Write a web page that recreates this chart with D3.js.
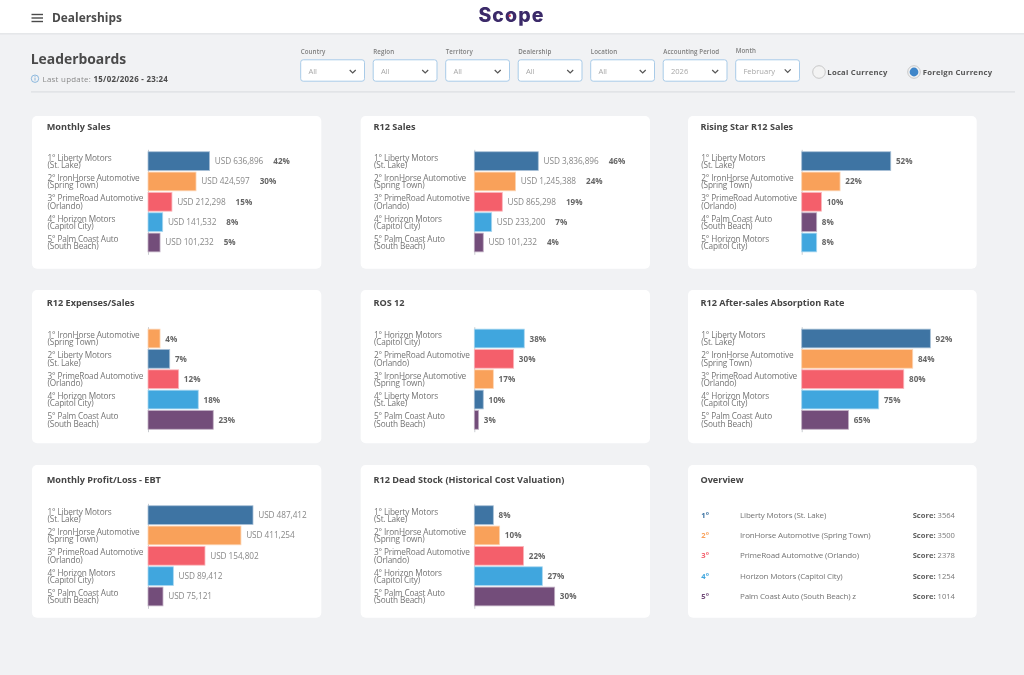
<!DOCTYPE html>
<html lang="en">
<head>
<meta charset="utf-8">
<title>Leaderboards</title>
<script src="https://cdnjs.cloudflare.com/ajax/libs/d3/7.8.5/d3.min.js"></script>
<style>
  body { margin: 0; background: #f1f2f4; font-family: "Open Sans", sans-serif; }
  svg { display: block; filter: blur(.3px); }
  text { font-family: "Open Sans", sans-serif; }
  .card { fill: #fff; }
  .title { font-size: 9.15px; font-weight: 700; fill: #454545; }
  .dealer { font-size: 8.25px; fill: #747474; letter-spacing: -.16px; }
  .amount { font-size: 8.25px; fill: #888; letter-spacing: -.06px; }
  .share { font-size: 8.1px; font-weight: 700; fill: #666; letter-spacing: .05px; }
  .flabel { font-size: 6.2px; font-weight: 600; fill: #7d7d7d; letter-spacing: .1px; }
  .fvalue { font-size: 7.6px; fill: #a8a8a8; }
  .radio { font-size: 7.7px; font-weight: 700; fill: #555; letter-spacing: .25px; }
  .axis path { stroke: #c9ccd0; }
</style>
</head>
<body>
<div id="chart"></div>
<script>
// dealers, same index everywhere
var dealerNames = ['Liberty Motors', 'IronHorse Automotive', 'PrimeRoad Automotive', 'Horizon Motors', 'Palm Coast Auto'];
var dealerTowns = ['St. Lake', 'Spring Town', 'Orlando', 'Capitol City', 'South Beach'];
var dealerColors = ['#3e74a3', '#f9a15a', '#f45f6b', '#40a6de', '#734d7a'];

// bar lengths are read off the picture, they do not follow the printed labels
var monthlySalesOrder = [0, 1, 2, 3, 4];
var monthlySalesBars = [44, 34.3, 17.1, 10.5, 8.6];
var monthlySalesAmounts = [636896, 424597, 212298, 141532, 101232];
var monthlySalesShares = [42, 30, 15, 8, 5];

var r12SalesOrder = [0, 1, 2, 3, 4];
var r12SalesBars = [45.7, 29.5, 20, 12.4, 6.4];
var r12SalesAmounts = [3836896, 1245388, 865298, 233200, 101232];
var r12SalesShares = [46, 24, 19, 7, 4];

var risingStarOrder = [0, 1, 2, 4, 3];
var risingStarBars = [63.6, 27.4, 14.1, 10.7, 10.7];
var risingStarShares = [52, 22, 10, 8, 8];

var expensesOrder = [1, 0, 2, 3, 4];
var expensesBars = [8.6, 15.5, 21.9, 35.9, 46.6];
var expensesShares = [4, 7, 12, 18, 23];

var rosOrder = [3, 2, 1, 0, 4];
var rosBars = [35.7, 28.1, 13.6, 6.4, 3.1];
var rosShares = [38, 30, 17, 10, 3];

var absorptionOrder = [0, 1, 2, 3, 4];
var absorptionBars = [91.9, 79.3, 72.9, 55, 33.4];
var absorptionShares = [92, 84, 80, 75, 65];

var profitOrder = [0, 1, 2, 3, 4];
var profitBars = [75, 66.4, 40.7, 18.1, 10.7];
var profitAmounts = [487412, 411254, 154802, 89412, 75121];

var deadStockOrder = [0, 1, 2, 3, 4];
var deadStockBars = [13.6, 18.1, 35.2, 48.6, 57.4];
var deadStockShares = [8, 10, 22, 27, 30];

var overviewOrder = [0, 1, 2, 3, 4];
var overviewScores = [3564, 3500, 2378, 1254, 1014];

var filterLabels = ['Country', 'Region', 'Territory', 'Dealership', 'Location', 'Accounting Period', 'Month'];
var filterValues = ['All', 'All', 'All', 'All', 'All', '2026', 'February'];

var panels = [
  { title: 'Monthly Sales', order: monthlySalesOrder, bars: monthlySalesBars, amounts: monthlySalesAmounts, shares: monthlySalesShares },
  { title: 'R12 Sales', order: r12SalesOrder, bars: r12SalesBars, amounts: r12SalesAmounts, shares: r12SalesShares },
  { title: 'Rising Star R12 Sales', order: risingStarOrder, bars: risingStarBars, shares: risingStarShares },
  { title: 'R12 Expenses/Sales', order: expensesOrder, bars: expensesBars, shares: expensesShares },
  { title: 'ROS 12', order: rosOrder, bars: rosBars, shares: rosShares },
  { title: 'R12 After-sales Absorption Rate', order: absorptionOrder, bars: absorptionBars, shares: absorptionShares },
  { title: 'Monthly Profit/Loss - EBT', order: profitOrder, bars: profitBars, amounts: profitAmounts },
  { title: 'R12 Dead Stock (Historical Cost Valuation)', order: deadStockOrder, bars: deadStockBars, shares: deadStockShares }
];

var width = 1024, height = 675;
var cardX = [32, 360.7, 688], cardW = [289.3, 289.3, 288.7];
var cardY = [116, 290, 465], cardH = [152.7, 153.3, 152.7];
var titleDx = [14.7, 12.7, 12.4], labelDx = [15.5, 13.3, 13.3];
var titleDy = [10.3, 12.7, 15], plotDy = [33.3, 36.7, 38.3];
var axisDx = [116, 113.6, 113.7];
var plotH = 105;

var svg = d3.select('#chart').append('svg').attr('width', width).attr('height', height);
svg.append('rect').attr('width', width).attr('height', height).attr('fill', '#f1f2f4');

// top bar
svg.append('rect').attr('width', width).attr('height', 33).attr('fill', '#fff');
svg.append('rect').attr('y', 33).attr('width', width).attr('height', 1.6).attr('fill', '#e5e7e9');
[14.5, 18, 21.5].forEach(function(y) {
  svg.append('rect').attr('x', 31.5).attr('y', y - .7).attr('width', 11.5).attr('height', 1.4).attr('fill', '#4a4a4a');
});
svg.append('text').attr('x', 52).attr('y', 22).style('font-size', '11.9px').style('font-weight', 700).attr('fill', '#4a4a4a').text('Dealerships');
svg.append('text').attr('x', 511.5).attr('y', 22).attr('text-anchor', 'middle')
  .style('font-family', 'Inter').style('font-size', '19.5px').style('font-weight', 800).style('letter-spacing', '1.1px').attr('fill', '#3b2a69').text('Scope');
svg.append('circle').attr('cx', 509.7).attr('cy', 15.8).attr('r', 1.3).attr('fill', '#e0405a');

// page heading
svg.append('text').attr('x', 30.7).attr('y', 64).style('font-size', '13.9px').style('font-weight', 700).attr('fill', '#4a4a4a').text('Leaderboards');
svg.append('circle').attr('cx', 35).attr('cy', 78.7).attr('r', 3.7).attr('fill', 'none').attr('stroke', '#74a9d8').attr('stroke-width', .8);
svg.append('rect').attr('x', 34.6).attr('y', 77.6).attr('width', .8).attr('height', 3).attr('fill', '#74a9d8');
svg.append('rect').attr('x', 34.6).attr('y', 76.2).attr('width', .8).attr('height', .8).attr('fill', '#74a9d8');
var updated = svg.append('text').attr('x', 42.5).attr('y', 81.6).style('font-size', '7.9px').style('letter-spacing', '.28px').attr('fill', '#8a8a8a');
updated.append('tspan').text('Last update: ');
updated.append('tspan').style('font-weight', 700).attr('fill', '#4a4a4a').text('15/02/2026 - 23:24');
svg.append('rect').attr('x', 31).attr('y', 91.3).attr('width', 984).attr('height', 1.2).attr('fill', '#dcdee1');

// filters
var filterX = d3.scaleLinear().domain([0, 6]).range([300.7, 735.7]);
filterLabels.forEach(function(label, i) {
  var x = filterX(i), up = label === 'Month' ? .7 : 0;
  svg.append('text').attr('class', 'flabel').attr('x', x).attr('y', 54 - up).text(label);
  svg.append('rect').attr('x', x).attr('y', 59.8).attr('width', 63.8).attr('height', 21.4).attr('rx', 2.5)
    .attr('fill', '#fff').attr('stroke', '#a9cbe8').attr('stroke-width', 1);
  svg.append('text').attr('class', 'fvalue').attr('x', x + 7.7).attr('y', 74.4).text(filterValues[i]);
  var cx = x + 52, cy = 71.5 - up;
  svg.append('path').attr('d', 'M' + (cx - 3) + ',' + (cy - 1.5) + 'L' + cx + ',' + (cy + 1.5) + 'L' + (cx + 3) + ',' + (cy - 1.5))
    .attr('fill', 'none').attr('stroke', '#555').attr('stroke-width', 1.2);
});

// currency switch
svg.append('circle').attr('cx', 819).attr('cy', 72).attr('r', 6.3).attr('fill', '#f3f3f3').attr('stroke', '#bdbdbd').attr('stroke-width', .8);
svg.append('text').attr('class', 'radio').attr('x', 827.3).attr('y', 75).text('Local Currency');
svg.append('circle').attr('cx', 914).attr('cy', 72).attr('r', 6.3).attr('fill', '#f3f3f3').attr('stroke', '#bdbdbd').attr('stroke-width', .8);
svg.append('circle').attr('cx', 914).attr('cy', 72).attr('r', 4.4).attr('fill', '#3f86c9');
svg.append('text').attr('class', 'radio').attr('x', 922.7).attr('y', 75).text('Foreign Currency');

// one common length scale for all the bars
var x = d3.scaleLinear().domain([0, 100]).range([0, 140]);
var rowBand = d3.scaleBand().domain(d3.range(5)).range([0, plotH]).paddingInner(0.08).paddingOuter(0.12);
var usd = d3.format(',');

panels.forEach(function(p, i) {
  var col = i % 3, row = Math.floor(i / 3);
  var g = svg.append('g').attr('transform', 'translate(' + cardX[col] + ',' + cardY[row] + ')');
  g.append('rect').attr('class', 'card').attr('width', cardW[col]).attr('height', cardH[row]).attr('rx', 5);
  g.append('text').attr('class', 'title').attr('x', titleDx[col]).attr('y', titleDy[row] + 3.4).text(p.title);

  var plot = g.append('g').attr('transform', 'translate(' + axisDx[col] + ',' + plotDy[row] + ')');
  var axis = plot.append('g').attr('class', 'axis').call(d3.axisLeft(rowBand).tickSize(0));

  // two line dealer labels on the axis ticks
  axis.selectAll('.tick text').each(function(r) {
    var dealer = p.order[r], lx = labelDx[col] - axisDx[col];
    var t = d3.select(this).attr('class', 'dealer').attr('text-anchor', 'start').attr('dy', null).text(null).attr('x', lx);
    t.append('tspan').attr('x', lx).attr('y', -.5).text((r + 1) + '° ' + dealerNames[dealer]);
    t.append('tspan').attr('x', lx).attr('y', 6.7).text('(' + dealerTowns[dealer] + ')');
  });
  axis.select('.domain').attr('stroke', '#c9ccd0');

  var rows = plot.selectAll('.row').data(p.bars).enter().append('g').attr('class', 'row')
    .attr('transform', function(d, r) { return 'translate(0,' + rowBand(r) + ')'; });

  rows.append('rect')
    .attr('width', function(d) { return x(d); })
    .attr('height', rowBand.bandwidth())
    .attr('fill', function(d, r) { return dealerColors[p.order[r]]; })
    .attr('stroke', function(d, r) { return d3.interpolateRgb(dealerColors[p.order[r]], '#fff')(0.55); })
    .attr('stroke-width', .8);

  rows.each(function(d, r) {
    var row = d3.select(this), lx = x(d) + 5.2, ly = rowBand.bandwidth() / 2 + 3;
    if (p.amounts) {
      var a = row.append('text').attr('class', 'amount').attr('x', lx).attr('y', ly).text('USD ' + usd(p.amounts[r]));
      lx += a.node().getComputedTextLength() + 10;
    }
    if (p.shares) {
      row.append('text').attr('class', 'share').attr('x', lx).attr('y', ly).text(p.shares[r] + '%');
    }
  });
});

// overview card
var ov = svg.append('g').attr('transform', 'translate(' + cardX[2] + ',' + cardY[2] + ')');
ov.append('rect').attr('class', 'card').attr('width', cardW[2]).attr('height', cardH[2]).attr('rx', 5);
ov.append('text').attr('class', 'title').attr('x', 12.4).attr('y', 18.4).text('Overview');
var ovY = d3.scalePoint().domain(d3.range(5)).range([50, 131]);
overviewOrder.forEach(function(dealer, r) {
  var y = ovY(r) + 2.8;
  ov.append('text').attr('x', 13.3).attr('y', y).style('font-size', '7.6px').style('font-weight', 700)
    .attr('fill', dealerColors[dealer]).text((r + 1) + '°');
  ov.append('text').attr('class', 'dealer').attr('x', 52).attr('y', y).style('font-size', '8px')
    .text(dealerNames[dealer] + ' (' + dealerTowns[dealer] + ')' + (r === 4 ? ' z' : ''));
  var s = ov.append('text').attr('x', 224.7).attr('y', y).style('font-size', '7.6px').attr('fill', '#7b7b7b');
  s.append('tspan').style('font-weight', 700).attr('fill', '#5c5c5c').text('Score: ');
  s.append('tspan').text(overviewScores[r]);
});
</script>
</body>
</html>
